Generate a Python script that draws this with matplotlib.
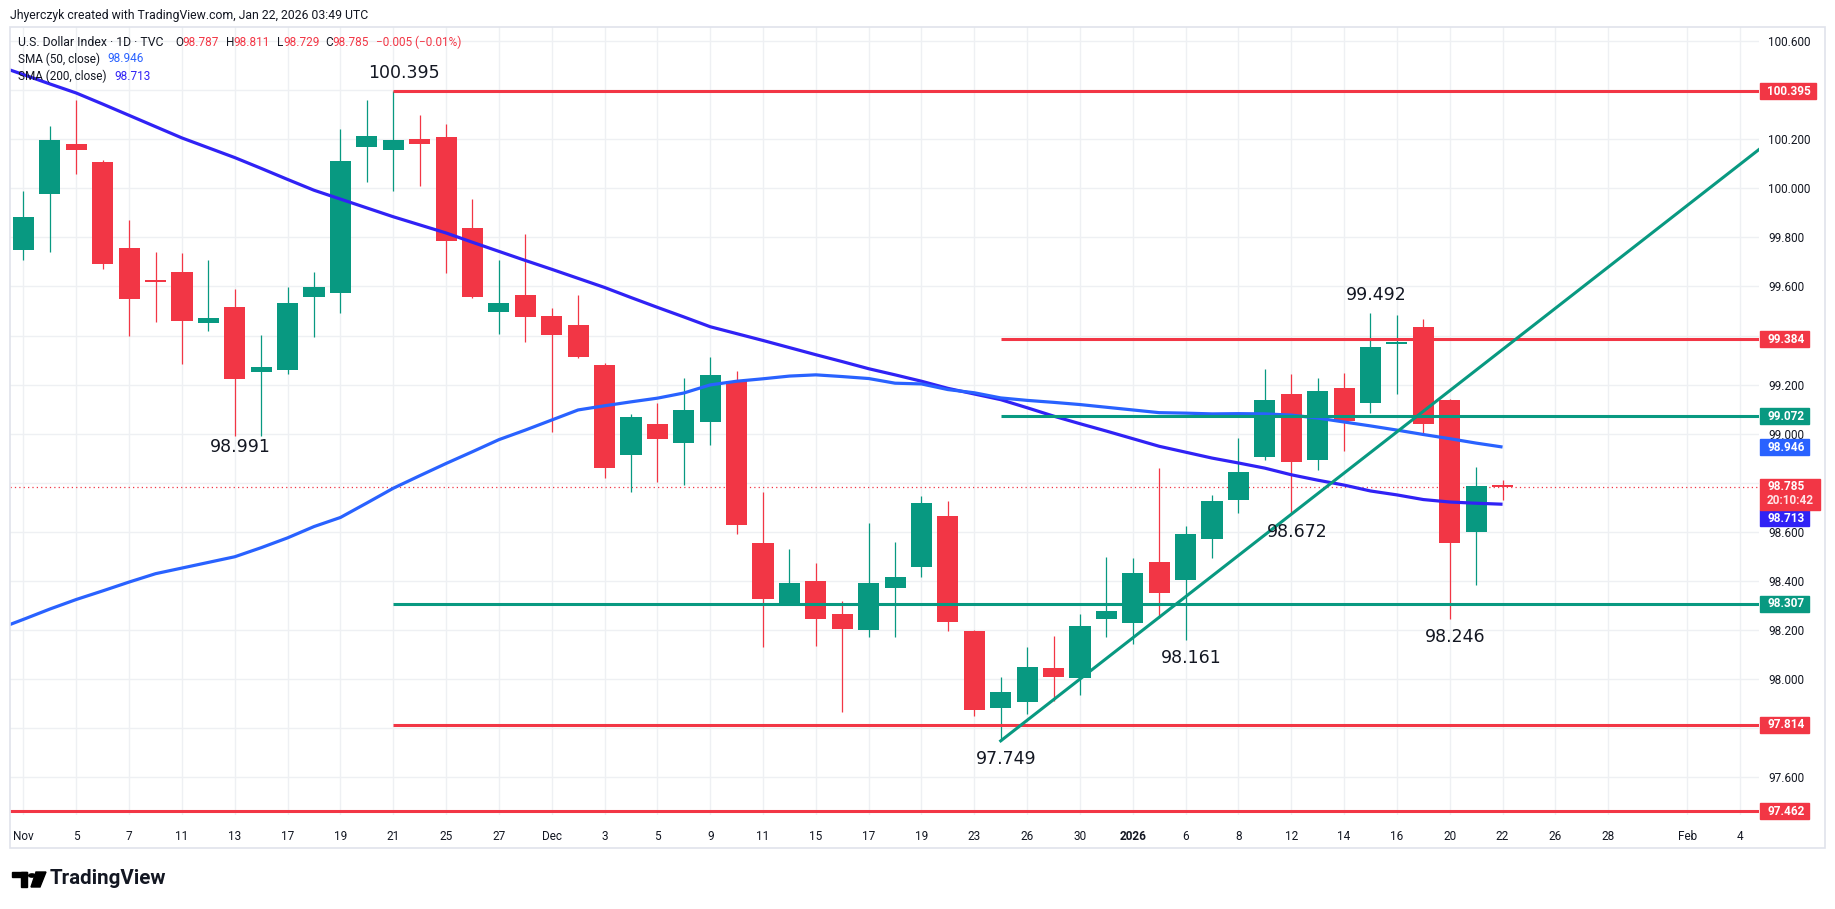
import numpy as np
import matplotlib
matplotlib.use('Agg')
import matplotlib.pyplot as plt
from matplotlib.patches import Rectangle, Circle, Polygon

W, H = 1835, 909

# DXY daily candles, Nov 3 2025 -> Jan 22 2026 (one per trading day)
opens = [99.750, 99.978, 100.180, 100.107, 99.757, 99.626, 99.659, 99.453, 99.516, 99.253,
         99.261, 99.558, 99.575, 100.169, 100.157, 100.201, 100.209, 99.838, 99.497, 99.565,
         99.480, 99.443, 99.280, 98.915, 99.040, 98.964, 99.049, 99.215, 98.555, 98.312,
         98.400, 98.266, 98.202, 98.373, 98.459, 98.665, 98.197, 97.884, 97.909, 98.046,
         98.007, 98.244, 98.231, 98.478, 98.404, 98.573, 98.732, 98.907, 99.162, 98.893,
         99.187, 99.125, 99.367, 99.435, 99.136, 98.601, 98.787]
highs = [99.989, 100.254, 100.360, 100.115, 99.870, 99.741, 99.736, 99.708, 99.589, 99.402,
         99.598, 99.659, 100.242, 100.360, 100.395, 100.299, 100.262, 99.956, 99.708, 99.814,
         99.512, 99.565, 99.287, 99.081, 99.125, 99.227, 99.313, 99.256, 98.763, 98.531,
         98.474, 98.319, 98.637, 98.559, 98.747, 98.726, 98.201, 98.009, 98.132, 98.176,
         98.266, 98.498, 98.493, 98.861, 98.624, 98.751, 98.983, 99.265, 99.244, 99.229,
         99.248, 99.492, 99.484, 99.468, 99.142, 98.865, 98.811]
lows = [99.708, 99.742, 100.059, 99.671, 99.398, 99.457, 99.286, 99.420, 98.991, 98.991,
        99.245, 99.396, 99.493, 100.027, 99.990, 100.011, 99.656, 99.554, 99.408, 99.375,
        99.009, 99.309, 98.821, 98.764, 98.805, 98.791, 98.956, 98.593, 98.133, 98.307,
        98.137, 97.868, 98.174, 98.174, 98.418, 98.198, 97.852, 97.749, 97.859, 97.913,
        97.937, 98.174, 98.145, 98.251, 98.161, 98.495, 98.677, 98.894, 98.672, 98.853,
        98.930, 99.083, 99.162, 99.004, 98.246, 98.385, 98.729]
closes = [99.883, 100.196, 100.157, 99.693, 99.550, 99.620, 99.461, 99.470, 99.224, 99.272,
          99.533, 99.598, 100.111, 100.212, 100.196, 100.182, 99.787, 99.557, 99.533, 99.477,
          99.404, 99.314, 98.862, 99.068, 98.980, 99.097, 99.240, 98.630, 98.328, 98.392,
          98.247, 98.206, 98.392, 98.417, 98.718, 98.235, 97.876, 97.948, 98.050, 98.011,
          98.217, 98.278, 98.433, 98.353, 98.592, 98.726, 98.844, 99.138, 98.886, 99.174,
          99.052, 99.354, 99.375, 99.041, 98.556, 98.787, 98.785]

# moving averages, first value is Oct 31 (just off the left edge)
sma50 = [98.203, 98.244, 98.286, 98.325, 98.360, 98.396, 98.430, 98.453, 98.476, 98.499,
         98.536, 98.576, 98.622, 98.659, 98.718, 98.778, 98.829, 98.879, 98.927, 98.976,
         99.015, 99.056, 99.097, 99.114, 99.130, 99.145, 99.166, 99.199, 99.214, 99.224,
         99.235, 99.240, 99.233, 99.225, 99.206, 99.203, 99.180, 99.167, 99.146, 99.136,
         99.128, 99.119, 99.108, 99.097, 99.086, 99.084, 99.081, 99.082, 99.081, 99.076,
         99.064, 99.048, 99.032, 99.015, 98.997, 98.980, 98.962, 98.946]
sma200 = [100.500, 100.463, 100.425, 100.388, 100.343, 100.297, 100.251, 100.205, 100.165, 100.125,
          100.081, 100.036, 99.992, 99.956, 99.920, 99.884, 99.851, 99.818, 99.780, 99.743,
          99.706, 99.670, 99.633, 99.596, 99.555, 99.515, 99.476, 99.436, 99.408, 99.380,
          99.351, 99.322, 99.294, 99.265, 99.240, 99.214, 99.185, 99.162, 99.139, 99.106,
          99.072, 99.041, 99.011, 98.980, 98.949, 98.925, 98.901, 98.881, 98.860, 98.833,
          98.811, 98.791, 98.767, 98.751, 98.732, 98.722, 98.717, 98.713]

# time axis labels (bar index -> label)
tick_pos = list(range(0, 61, 2)) + [63, 65]
tick_labels = ['Nov', '5', '7', '11', '13', '17', '19', '21', '25', '27',
               'Dec', '3', '5', '9', '11', '15', '17', '19', '23', '26', '30',
               '2026', '6', '8', '12', '14', '16', '20', '22', '26', '28', 'Feb', '4']

# drawn support / resistance levels (value, first bar, colour)
level_values = [100.395, 99.384, 99.072, 98.307, 97.814, 97.462]
level_start = [14, 37, 37, 14, 14, None]
level_kind = ['red', 'red', 'green', 'green', 'red', 'red']

# rising trend line through two lows
trend_bars = [37, 48]
trend_vals = [97.749, 98.672]

# pivot labels
pivot_text = ['100.395', '98.991', '97.749', '98.161', '98.672', '99.492', '98.246']
pivot_bars = [14, 8, 37, 44, 48, 51, 54]
pivot_high = [True, False, False, False, False, True, False]

last_price = 98.785

RED = '#f23645'
GREEN = '#089981'
BLUE50 = '#2962ff'
BLUE200 = '#3022f5'
TXT = '#131722'
col = {'red': RED, 'green': GREEN}

plt.rcParams['font.family'] = ['Roboto', 'DejaVu Sans']

fig = plt.figure(figsize=(W / 100, H / 100), dpi=100)
fig.patch.set_facecolor('white')

# plot area in pixels: x 10..1759, y 27..815
ax = fig.add_axes([10 / W, (H - 815) / H, 1749 / W, 788 / H])
x0, x1 = -0.511, 65.71
ax.set_xlim(x0, x1)
ax.set_ylim(97.447, 100.657)

for s in ax.spines.values():
    s.set_visible(False)

# grid + ticks
yt = np.round(np.arange(97.6, 100.61, 0.2), 1)
ax.set_yticks(yt)
hidden = {97.8, 98.8, 99.4, 100.4}
ax.set_yticklabels(['' if v in hidden else f'{v:.3f}' for v in yt])
ax.yaxis.tick_right()
ax.tick_params(axis='y', length=0, pad=6.5, labelsize=8.5, labelcolor=TXT)
ax.set_xticks(tick_pos)
ax.set_xticklabels(tick_labels)
ax.tick_params(axis='x', length=0, pad=11, labelsize=8.5, labelcolor=TXT)
ax.get_xticklabels()[21].set_fontweight('bold')
ax.grid(True, color='#eef0f3', lw=1)
ax.set_axisbelow(True)

# candles
x = np.arange(len(opens))
o = np.array(opens)
c = np.array(closes)
up = c >= o
colors = np.where(up, GREEN, RED)
ax.vlines(x, lows, highs, colors=colors, lw=0.9, zorder=2)
body = np.maximum(np.abs(c - o), 0.005)
ax.bar(x, body, bottom=np.minimum(o, c), width=0.8, color=colors, lw=0, zorder=3)

# moving averages
sx = np.arange(-1, len(sma50) - 1)
ax.plot(sx, sma200, color=BLUE200, lw=2.3, zorder=4, solid_capstyle='butt')
ax.plot(sx, sma50, color=BLUE50, lw=2.3, zorder=4, solid_capstyle='butt')

# current price dotted line
ax.axhline(last_price, color=RED, lw=0.9, ls=(0, (1, 2.5)), zorder=1)

# levels
for v, st, k in zip(level_values, level_start, level_kind):
    ax.hlines(v, x0 if st is None else st, x1, color=col[k], lw=2.2, zorder=5)

# trend line, extended to the right edge
slope = (trend_vals[1] - trend_vals[0]) / (trend_bars[1] - trend_bars[0])
tx = np.array([trend_bars[0], x1])
ax.plot(tx, trend_vals[0] + slope * (tx - trend_bars[0]), color=GREEN, lw=2.2, zorder=5)

# pivot annotations
for t, b, hi in zip(pivot_text, pivot_bars, pivot_high):
    yv = highs[b] if hi else lows[b]
    dy = 13 if hi else -13
    dx = 4
    if t == '98.991':
        dy = -8
    if t == '100.395':
        dx = 8
    ax.annotate(t, (b, yv), xytext=(dx, dy), textcoords='offset points', ha='center', va='center',
                fontsize=12.5, color=TXT, family='DejaVu Sans', zorder=6)


# price scale labels
def ypix(v):
    return ax.transData.transform((0, v))[1]  # from bottom


def price_box(v, txt, color, shift=0, w=None, extra=None):
    yc = ypix(v) - shift
    if w is None:
        w = 56 if len(txt) > 6 else 49
    h = 16
    if extra:
        h = 31
    fig.patches.append(Rectangle((1760 / W, (yc - 8 - (h - 16)) / H), w / W, h / H,
                                 transform=fig.transFigure, color=color, zorder=5))
    fig.text(1767 / W, yc / H, txt, color='white', fontsize=8.5, fontweight='bold', va='center', zorder=6)
    if extra:
        fig.text(1767 / W, (yc - 14) / H, extra, color='#ffe3e6', fontsize=8.5, fontweight='bold',
                 va='center', zorder=6)


price_box(100.395, '100.395', RED)
price_box(99.384, '99.384', RED)
price_box(99.072, '99.072', GREEN)
price_box(98.946, '98.946', BLUE50)
price_box(98.713, '98.713', BLUE200, shift=14)
price_box(last_price, '98.785', RED, w=60, extra='20:10:42')
price_box(98.307, '98.307', GREEN)
price_box(97.814, '97.814', RED)
price_box(97.462, '97.462', RED)


# header texts (pixel positions)
def ftext(px, py, s, **kw):
    kw.setdefault('fontsize', 8.5)
    kw.setdefault('color', TXT)
    fig.text(px / W, 1 - py / H, s, va='center', **kw)


ftext(10, 15, 'Jhyerczyk created with TradingView.com, Jan 22, 2026 03:49 UTC', fontsize=8.8)
ftext(18, 42, 'U.S. Dollar Index · 1D · TVC', fontsize=8.8)
for lx, lt, vx, vt in [(175, 'O', 182.5, '98.787'), (226, 'H', 233, '98.811'),
                       (276.5, 'L', 283, '98.729'), (325, 'C', 332, '98.785')]:
    ftext(lx, 42, lt)
    ftext(vx, 42, vt, color=RED)
ftext(376, 42, '−0.005 (−0.01%)', color=RED)
ftext(18, 59, 'SMA (50, close)')
ftext(107, 59, '98.946', color=BLUE50)
ftext(18, 76, 'SMA (200, close)')
ftext(114, 76, '98.713', color=BLUE200)

# chart frame
fig.patches.append(Rectangle((10 / W, (H - 848) / H), 1815 / W, 821 / H, transform=fig.transFigure,
                             fill=False, ec='#e0e3eb', lw=1.2))


# TradingView logo bottom-left
def fp(px, py):
    return (px / W, 1 - py / H)


tf = fig.transFigure
fig.patches.append(Rectangle(fp(12, 877), 15 / W, 5 / H, transform=tf, color='black'))
fig.patches.append(Rectangle(fp(21, 887), 6 / W, 15 / H, transform=tf, color='black'))
fig.patches.append(Polygon([fp(36, 872), fp(46, 872), fp(40, 887), fp(31, 887)], closed=True,
                           transform=tf, color='black'))
fig.patches.append(Circle(fp(32, 875.5), 3.3 / W, transform=tf, color='black'))
ftext(50, 879, 'TradingView', fontsize=14.8, fontweight='bold', color='#131722')

fig.savefig('out.png', dpi=100, facecolor='white')
